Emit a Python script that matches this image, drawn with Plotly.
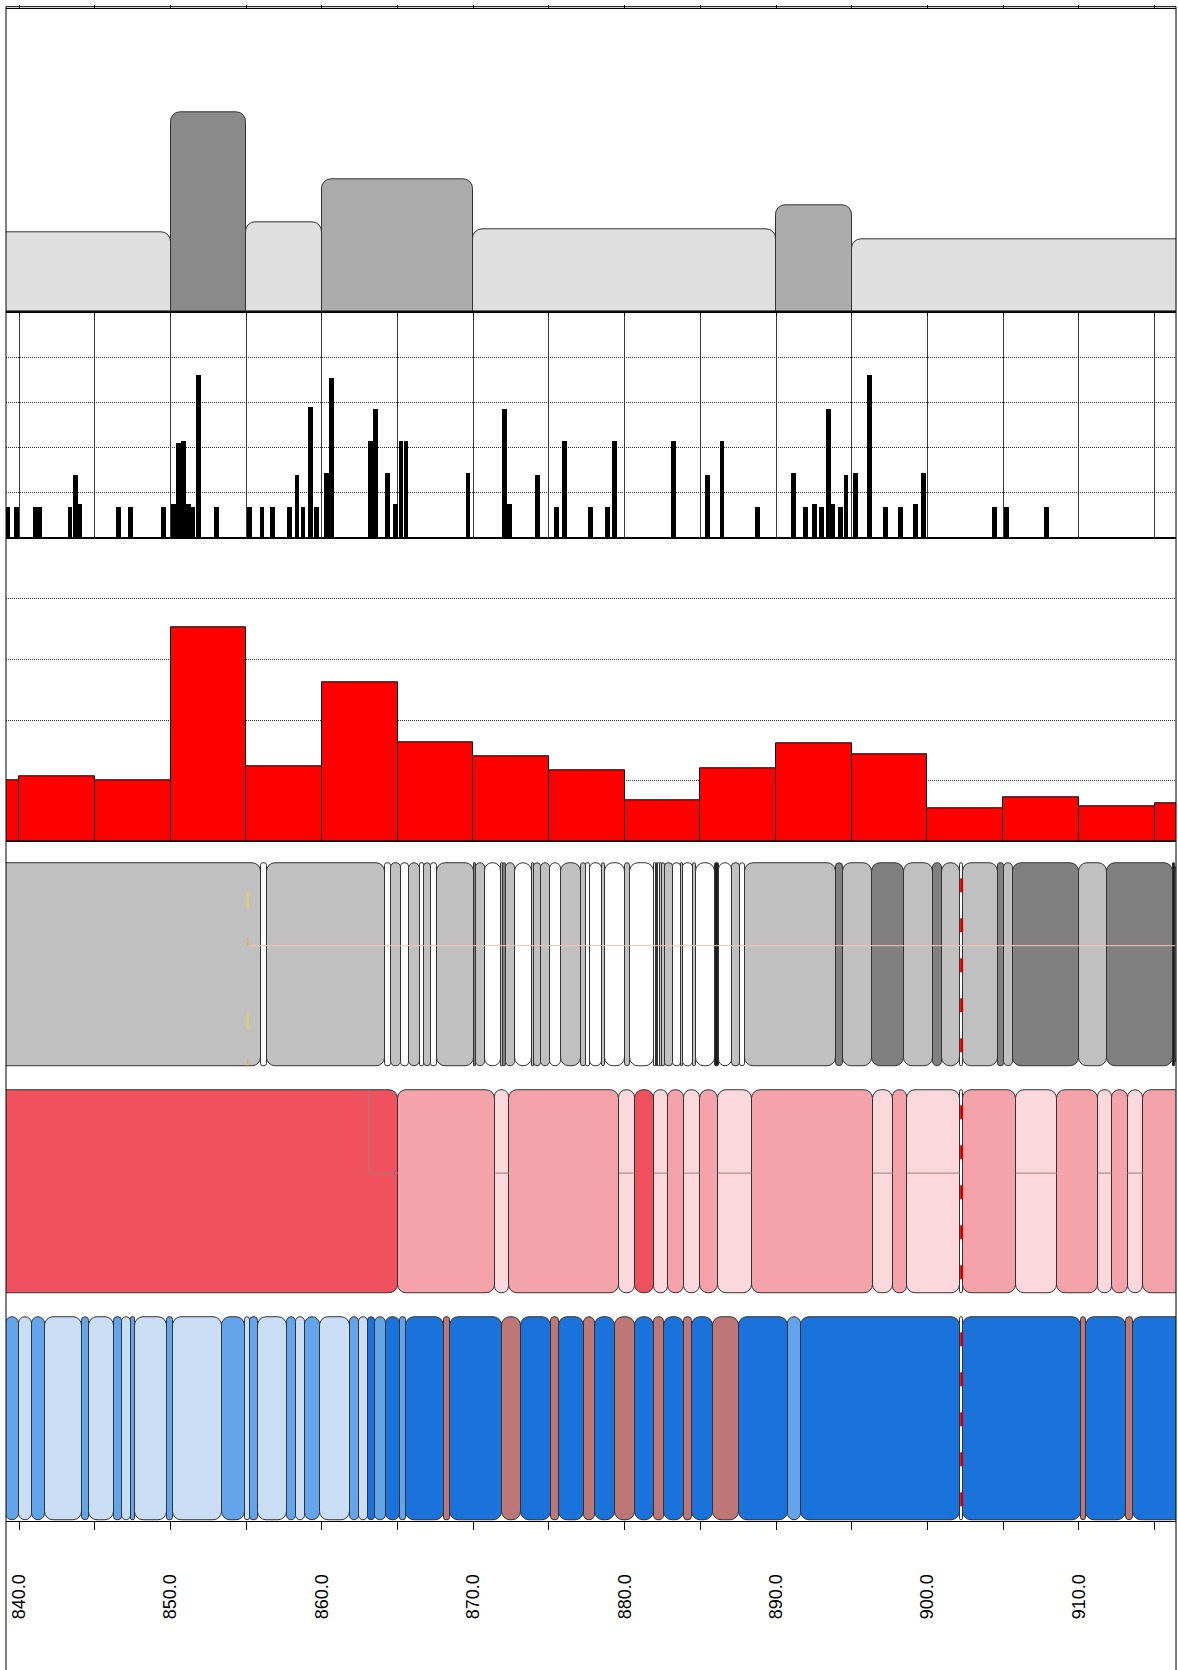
import plotly.graph_objects as go

W, H = 1178, 1670
X_RANGE = [839.13, 916.42]

# ---------------- Panel 1 (top, grey summary bars) ----------------
p1_edges = [835.0, 850.0, 855.0, 860.0, 870.0, 890.0, 895.0, 920.0]
p1_values = [7.94, 19.94, 8.94, 13.24, 8.24, 10.67, 7.24]
p1_colors = ['#DFDFDF', '#8A8A8A', '#DFDFDF', '#ACACAC', '#DFDFDF', '#ACACAC', '#DFDFDF']

# ---------------- Panel 2 (black spikes) ----------------
p2_pos = [839.21, 839.82, 841.05, 841.35, 843.36, 843.71, 844.02, 846.55, 847.36, 849.54,
          850.17, 850.55, 850.87, 851.17, 851.47, 851.84, 853.05, 855.23, 856.04, 856.74,
          857.86, 858.35, 858.75, 859.26, 859.66, 860.31, 860.64, 863.22, 863.55, 864.34,
          864.84, 865.22, 865.55, 869.65, 872.04, 872.37, 874.24, 875.52, 876.03, 877.75,
          878.84, 879.35, 883.23, 885.45, 886.43, 888.75, 891.13, 891.93, 892.52, 893.01,
          893.44, 893.72, 894.23, 894.62, 895.23, 896.15, 897.23, 898.24, 899.22, 899.72,
          904.43, 905.24, 907.84]
p2_val = [0.70, 0.70, 0.70, 0.70, 0.70, 1.40, 0.76, 0.70, 0.70, 0.70,
          0.76, 2.10, 2.15, 0.76, 0.70, 3.60, 0.70, 0.70, 0.70, 0.70,
          0.70, 1.40, 0.70, 2.90, 0.70, 1.45, 3.55, 2.15, 2.85, 1.45,
          0.76, 2.15, 2.15, 1.45, 2.85, 0.76, 1.40, 0.70, 2.15, 0.70,
          0.70, 2.15, 2.15, 1.40, 2.15, 0.70, 1.45, 0.70, 0.76, 0.70,
          2.85, 0.76, 0.70, 1.40, 1.45, 3.60, 0.70, 0.70, 0.76, 1.45,
          0.70, 0.70, 0.70]
p2_width = 0.32

# ---------------- Panel 3 (red histogram) ----------------
p3_centers = [837.5, 842.5, 847.5, 852.5, 857.5, 862.5, 867.5, 872.5, 877.5,
              882.5, 887.5, 892.5, 897.5, 902.5, 907.5, 912.5, 917.5]
p3_val = [1.01, 1.07, 1.00, 3.53, 1.24, 2.63, 1.64, 1.40, 1.17,
          0.67, 1.20, 1.62, 1.44, 0.54, 0.72, 0.58, 0.63]

# ---------------- Panel 4 (grey segments) ----------------
p4_edges = [838.50, 855.95, 856.37, 864.19, 864.54, 865.25, 865.75, 866.46, 866.74, 867.19,
            867.58, 870.05, 870.21, 870.75, 871.86, 871.98, 872.14, 872.74, 873.88, 874.01,
            874.50, 875.05, 875.82, 877.14, 877.43, 877.69, 878.47, 878.68, 880.01, 880.34,
            881.94, 882.05, 882.14, 882.23, 882.32, 882.45, 882.69, 883.16, 883.75, 883.84,
            884.52, 884.74, 885.95, 886.22, 887.06, 887.65, 887.94, 893.95, 894.43, 896.37,
            898.44, 900.38, 900.97, 902.16, 902.36, 904.67, 905.05, 905.66, 910.03, 911.86,
            916.24, 916.35, 917.50]
p4_class = ['G', 'W', 'G', 'W', 'G', 'W', 'G', 'W', 'G', 'W',
            'G', 'D', 'G', 'W', 'G', 'D', 'G', 'W', 'G', 'G',
            'G', 'W', 'G', 'G', 'W', 'W', 'G', 'W', 'G', 'W',
            'W', 'W', 'G', 'W', 'G', 'G', 'G', 'W', 'G', 'W',
            'G', 'W', 'K', 'W', 'G', 'W', 'G', 'D', 'G', 'D',
            'G', 'D', 'G', 'W', 'G', 'D', 'G', 'D', 'G', 'D',
            'K', 'D']
p4_palette = {'G': '#C0C0C0', 'D': '#808080', 'W': '#FFFFFF', 'K': '#1E1E1E'}
p4_guide_x = [855.11, 917.0]      # faint horizontal guide in panel 4
p4_guide_y = 0.595
p4_tick_x = 855.11                # small coloured marks at the guide start
p4_tick_spans = [(0.779, 0.857, '#E6E600'), (0.593, 0.634, '#E8A040'),
                 (0.181, 0.260, '#E6E600'), (0.0, 0.037, '#E8A040')]

# ---------------- Panel 5 (pink segments) ----------------
p5_edges = [838.50, 865.05, 871.46, 872.36, 879.63, 880.65, 881.92, 882.85, 883.92, 884.96,
            886.15, 888.40, 896.41, 897.73, 898.66, 902.16, 902.36, 905.84, 908.55, 911.24,
            912.17, 913.22, 914.26, 917.50]
p5_class = ['D', 'M', 'L', 'M', 'L', 'D', 'L', 'M', 'L', 'M',
            'L', 'M', 'L', 'M', 'L', 'W', 'M', 'L', 'M', 'L',
            'M', 'L', 'M']
p5_palette = {'D': '#EF525E', 'M': '#F5A3AA', 'L': '#FBD8DB', 'W': '#FFFFFF'}
p5_guide_y = 0.593                 # thin inner line level in light segments
p5_inner_box_x = [863.11, 865.05]  # thin inner outline inside the dark segment

# ---------------- Panel 6 (blue / rose segments) ----------------
p6_edges = [839.15, 839.98, 840.87, 841.68, 844.17, 844.59, 846.28, 846.79, 847.36, 847.65,
            849.79, 850.18, 853.37, 854.91, 855.27, 855.77, 857.67, 858.26, 858.88, 859.90,
            861.88, 862.45, 863.07, 863.49, 864.26, 865.14, 865.53, 868.06, 868.47, 871.92,
            873.12, 875.16, 875.66, 877.34, 878.05, 879.38, 880.65, 881.92, 882.62, 883.89,
            884.45, 885.86, 887.55, 890.79, 891.64, 902.16, 902.36, 910.14, 910.50, 913.10,
            913.59, 917.50]
p6_class = ['M', 'L', 'M', 'L', 'M', 'L', 'M', 'L', 'M', 'L',
            'M', 'L', 'M', 'L', 'M', 'L', 'M', 'L', 'M', 'L',
            'M', 'L', 'D', 'M', 'D', 'M', 'D', 'R', 'D', 'R',
            'D', 'R', 'D', 'R', 'D', 'R', 'D', 'R', 'D', 'R',
            'D', 'R', 'D', 'M', 'D', 'W', 'D', 'R', 'D', 'R',
            'D']
p6_palette = {'M': '#64A4EA', 'L': '#C9DEF5', 'D': '#1A73DA', 'R': '#BD7777', 'W': '#FFFFFF'}

MARKER_X = 902.26   # dashed red marker position

# ---------------- layout helpers ----------------
M_T, M_B, M_L, M_R = 9, 149, 6, 2
PLOT_H = H - M_T - M_B


def clamp(v):
    return max(0.0, min(1.0, v))


def dom(top_px, bot_px):
    return [clamp((H - M_B - bot_px) / PLOT_H), clamp((H - M_B - top_px) / PLOT_H)]


def seg_bars(edges, classes, palette, xa, ya):
    xs = [(a + b) / 2 for a, b in zip(edges[:-1], edges[1:])]
    ws = [b - a for a, b in zip(edges[:-1], edges[1:])]
    cols = [palette[c] for c in classes]
    return go.Bar(x=xs, y=[1] * len(xs), base=0, width=ws,
                  marker=dict(color=cols, line=dict(color='#333333', width=1), cornerradius=9),
                  xaxis=xa, yaxis=ya, showlegend=False, hoverinfo='skip')


fig = go.Figure()

# Panel 1
p1_x = [(a + b) / 2 for a, b in zip(p1_edges[:-1], p1_edges[1:])]
p1_w = [b - a for a, b in zip(p1_edges[:-1], p1_edges[1:])]
fig.add_trace(go.Bar(x=p1_x, y=p1_values, width=p1_w,
                     marker=dict(color=p1_colors, line=dict(color='#333333', width=1), cornerradius=10),
                     xaxis='x6', yaxis='y6', showlegend=False))

# Panel 2
fig.add_trace(go.Bar(x=p2_pos, y=p2_val, width=p2_width,
                     marker=dict(color='black', line=dict(width=0)),
                     xaxis='x5', yaxis='y5', showlegend=False))

# Panel 3
fig.add_trace(go.Bar(x=p3_centers, y=p3_val, width=5,
                     marker=dict(color='#FF0000', line=dict(color='black', width=1)),
                     xaxis='x4', yaxis='y4', showlegend=False))

# Panels 4-6
fig.add_trace(seg_bars(p4_edges, p4_class, p4_palette, 'x3', 'y3'))
fig.add_trace(seg_bars(p5_edges, p5_class, p5_palette, 'x2', 'y2'))
fig.add_trace(seg_bars(p6_edges, p6_class, p6_palette, 'x', 'y'))

# faint guide line in panel 4
fig.add_trace(go.Scatter(x=p4_guide_x, y=[p4_guide_y, p4_guide_y], mode='lines',
                         line=dict(color='#F6C4AC', width=1), xaxis='x3', yaxis='y3',
                         showlegend=False, hoverinfo='skip'))
for y0, y1, col in p4_tick_spans:
    fig.add_trace(go.Scatter(x=[p4_tick_x, p4_tick_x], y=[y0, y1], mode='lines',
                             line=dict(color=col, width=1), xaxis='x3', yaxis='y3',
                             showlegend=False, hoverinfo='skip'))

# thin inner lines in panel 5 light segments
gx, gy = [], []
for a, b, c in zip(p5_edges[:-1], p5_edges[1:], p5_class):
    if c == 'L':
        gx += [a, b, None]
        gy += [p5_guide_y, p5_guide_y, None]
gx += [p5_inner_box_x[0], p5_inner_box_x[0], p5_inner_box_x[1]]
gy += [1.0, p5_guide_y, p5_guide_y]
fig.add_trace(go.Scatter(x=gx, y=gy, mode='lines', line=dict(color='#A87878', width=1),
                         xaxis='x2', yaxis='y2', showlegend=False, hoverinfo='skip',
                         connectgaps=False))

for xa, ya in [('x3', 'y3'), ('x2', 'y2'), ('x', 'y')]:
    fig.add_trace(go.Scatter(x=[MARKER_X, MARKER_X], y=[0.926, 0.0], mode='lines',
                             line=dict(color='#CC0000', width=3, dash='14px,26px'),
                             xaxis=xa, yaxis=ya, showlegend=False, hoverinfo='skip'))

base_x = dict(range=X_RANGE, showgrid=False, zeroline=False, showticklabels=False,
              ticks='', fixedrange=True, automargin=False)
base_y = dict(showgrid=False, zeroline=False, showticklabels=False, ticks='', fixedrange=True,
              automargin=False)

seg_range = [-0.005, 1.015]
seg_h = 203.4


def seg_dom(top_px, bot_px):
    top_ext = bot_px - seg_h * 1.015
    bot_ext = bot_px + seg_h * 0.005
    return dom(top_ext, bot_ext)


GRID_DOT = '1px,1px'

fig.update_layout(
    template='none',
    width=W, height=H,
    margin=dict(t=M_T, b=M_B, l=M_L, r=M_R, pad=0, autoexpand=False),
    paper_bgcolor='white', plot_bgcolor='rgba(0,0,0,0)',
    barmode='overlay', bargap=0,
    showlegend=False,
    font=dict(family='Liberation Sans, Arial, sans-serif', color='black'),
    xaxis=dict(base_x, anchor='y', domain=[0, 1], showline=True, linecolor='black', linewidth=1,
               ticks='outside', ticklen=8, tickwidth=1, tickcolor='black',
               tick0=840, dtick=10, tickformat='.1f', tickangle=-90, showticklabels=True,
               tickfont=dict(family='Liberation Sans, Arial, sans-serif', size=18, color='black'),
               ticklabelstandoff=37,
               minor=dict(tick0=840, dtick=5, ticks='outside', ticklen=8, tickwidth=1,
                          tickcolor='black', showgrid=False)),
    yaxis=dict(base_y, domain=seg_dom(1317.3, 1520.7), range=seg_range, anchor='x'),
    xaxis2=dict(base_x, anchor='y2', matches='x'),
    yaxis2=dict(base_y, domain=seg_dom(1090.7, 1293.7), range=seg_range, anchor='x2'),
    xaxis3=dict(base_x, anchor='y3', matches='x'),
    yaxis3=dict(base_y, domain=seg_dom(864.3, 1066.7), range=seg_range, anchor='x3'),
    xaxis4=dict(base_x, anchor='y4', matches='x', showline=True, mirror=True,
                linecolor='black', linewidth=1),
    yaxis4=dict(base_y, domain=dom(538.3, 841.3), range=[0, 5], anchor='x4',
                showgrid=True, dtick=1, tick0=0, gridcolor='#333333', griddash=GRID_DOT, gridwidth=1),
    xaxis5=dict(base_x, anchor='y5', matches='x', showline=True, mirror=True,
                linecolor='black', linewidth=1, showgrid=True, tick0=840, dtick=5,
                gridcolor='#3A3A3A', gridwidth=1),
    yaxis5=dict(base_y, domain=dom(311.7, 538.3), range=[0, 5], anchor='x5',
                showgrid=True, dtick=1, tick0=0, gridcolor='#333333', griddash=GRID_DOT, gridwidth=1),
    xaxis6=dict(base_x, anchor='y6', matches='x', showline=True, mirror='ticks',
                linecolor='black', linewidth=1, ticks='outside', ticklen=3, tickcolor='black',
                tick0=840, dtick=5),
    yaxis6=dict(base_y, domain=dom(9.3, 311.7), range=[0, 30.24], anchor='x6'),
)

# outer frame
fig.add_shape(type='rect', xref='paper', yref='paper',
              x0=0, x1=1, y0=(H - M_B - 1672) / PLOT_H, y1=(H - M_B - 6.7) / PLOT_H,
              line=dict(color='black', width=1), fillcolor='rgba(0,0,0,0)', layer='above')

# remove the default page margin so the figure starts at the window's corner
fig.write_html('out.html', config={'displayModeBar': False},
               post_script="document.body.style.margin='0px';document.body.style.overflow='hidden';")
